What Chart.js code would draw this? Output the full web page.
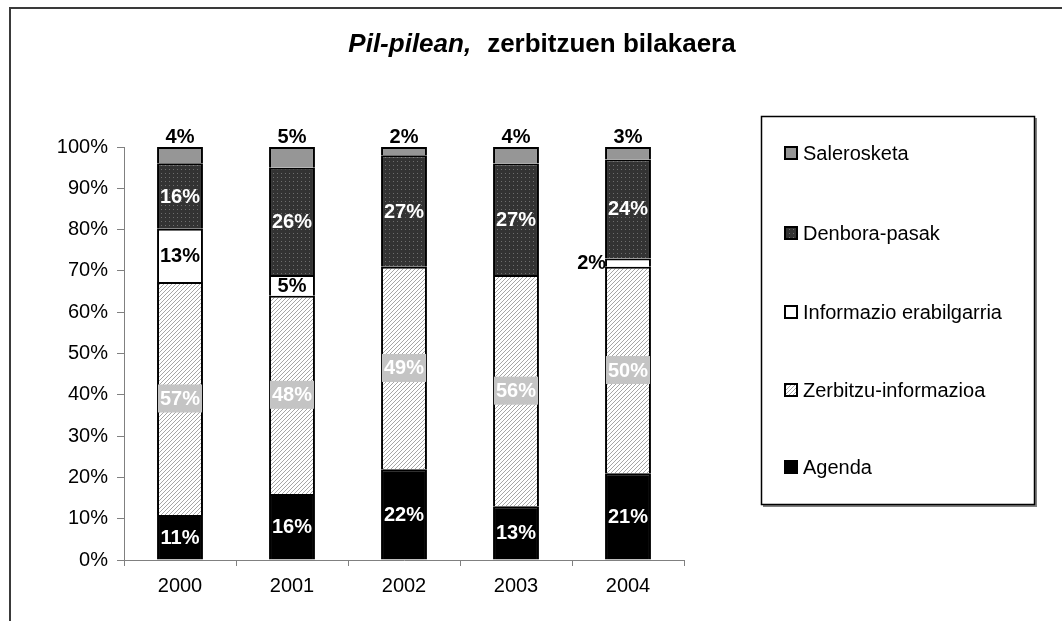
<!DOCTYPE html>
<html><head><meta charset="utf-8">
<script src="https://cdn.jsdelivr.net/npm/chart.js@4.4.0/dist/chart.umd.min.js"></script>
<style>html,body{margin:0;padding:0;background:#fff;}#wrap{width:1062px;height:621px;position:relative;}</style>
</head><body><div id="wrap"><canvas id="c" width="1062" height="621"></canvas></div>
<script>
// ---- data ----
const categories = ['2000', '2001', '2002', '2003', '2004'];
const agenda = [11, 16, 22, 13, 21];
const zerbitzu = [57, 48, 49, 56, 50];
const informazio = [13, 5, 0, 0, 2];
const denbora = [16, 26, 27, 27, 24];
const salerosketa = [4, 5, 2, 4, 3];
const yTickValues = [0, 10, 20, 30, 40, 50, 60, 70, 80, 90, 100];
const titleItalic = 'Pil-pilean,';
const titleRest = 'zerbitzuen bilakaera';

const FONT = '"Liberation Sans", Arial, sans-serif';

// ---- patterns ----
function hatchPattern() {
  const c = document.createElement('canvas'); c.width = 4; c.height = 4;
  const g = c.getContext('2d');
  g.fillStyle = '#ffffff'; g.fillRect(0, 0, 4, 4);
  g.strokeStyle = '#a6a6a6'; g.lineWidth = 1;
  g.beginPath();
  g.moveTo(-1, 5); g.lineTo(5, -1);
  g.moveTo(-1, 1); g.lineTo(1, -1);
  g.moveTo(3, 5); g.lineTo(5, 3);
  g.stroke();
  return g.createPattern(c, 'repeat');
}
function dotPattern() {
  const c = document.createElement('canvas'); c.width = 4; c.height = 4;
  const g = c.getContext('2d');
  g.fillStyle = '#333333'; g.fillRect(0, 0, 4, 4);
  g.fillStyle = '#6e6e6e'; g.fillRect(1, 1, 1, 1);
  return g.createPattern(c, 'repeat');
}

const seriesRaw = [agenda, zerbitzu, informazio, denbora, salerosketa];
const totals = categories.map((_, j) => seriesRaw.reduce((s, arr) => s + arr[j], 0));
const pct = arr => arr.map((v, j) => v / totals[j] * 100);

const datasets = [
  { label: 'Agenda', raw: agenda, data: pct(agenda), backgroundColor: '#000000', lbl: 'white' },
  { label: 'Zerbitzu-informazioa', raw: zerbitzu, data: pct(zerbitzu), backgroundColor: hatchPattern(), lbl: 'boxed' },
  { label: 'Informazio erabilgarria', raw: informazio, data: pct(informazio), backgroundColor: '#ffffff', lbl: 'black' },
  { label: 'Denbora-pasak', raw: denbora, data: pct(denbora), backgroundColor: dotPattern(), lbl: 'white' },
  { label: 'Salerosketa', raw: salerosketa, data: pct(salerosketa), backgroundColor: '#969696', lbl: 'above' }
].map(d => Object.assign(d, { borderColor: '#000000', borderWidth: 2, barPercentage: 0.41, categoryPercentage: 1 }));

const decor = {
  id: 'decor',
  beforeDraw(chart) {
    const ctx = chart.ctx;
    ctx.save();
    ctx.fillStyle = '#fff'; ctx.fillRect(0, 0, chart.width, chart.height);
    // outer frame
    ctx.strokeStyle = '#3a3a3a'; ctx.lineWidth = 2;
    ctx.beginPath(); ctx.moveTo(10, 621); ctx.lineTo(10, 8); ctx.lineTo(1062, 8); ctx.stroke();
    // title
    ctx.fillStyle = '#000'; ctx.textBaseline = 'alphabetic';
    ctx.font = 'italic bold 26px ' + FONT;
    const w1 = ctx.measureText(titleItalic).width;
    ctx.font = 'bold 26px ' + FONT;
    const w2 = ctx.measureText(titleRest).width;
    const gap = 16;
    let x0 = 542 - (w1 + gap + w2) / 2;
    ctx.font = 'italic bold 26px ' + FONT; ctx.textAlign = 'left';
    ctx.fillText(titleItalic, x0, 52);
    ctx.font = 'bold 26px ' + FONT;
    ctx.fillText(titleRest, x0 + w1 + gap, 52);
    ctx.restore();
  },
  afterDraw(chart) {
    const ctx = chart.ctx;
    ctx.save();
    // legend box
    ctx.strokeStyle = '#808080'; ctx.lineWidth = 2;
    ctx.beginPath(); ctx.moveTo(1036, 118); ctx.lineTo(1036, 506); ctx.lineTo(763, 506); ctx.stroke();
    ctx.strokeStyle = '#000'; ctx.lineWidth = 1.5;
    ctx.strokeRect(761.5, 116.5, 273, 388);
    const ys = [153, 233, 312, 390, 467];
    const ds = chart.data.datasets.slice().reverse();
    ctx.font = '20px ' + FONT; ctx.textBaseline = 'middle'; ctx.textAlign = 'left';
    ds.forEach((d, i) => {
      const y = ys[i];
      ctx.fillStyle = d.backgroundColor;
      ctx.fillRect(784, y - 7, 14, 14);
      ctx.strokeStyle = '#000'; ctx.lineWidth = 2;
      ctx.strokeRect(785, y - 6, 12, 12);
      ctx.fillStyle = '#000';
      ctx.fillText(d.label, 803, y + 1);
    });
    // data labels
    ctx.font = 'bold 20px ' + FONT;
    chart.data.datasets.forEach((d, i) => {
      const meta = chart.getDatasetMeta(i);
      meta.data.forEach((el, j) => {
        const v = d.raw[j];
        if (!v) return;
        const p = el.getProps(['x', 'y', 'base', 'width'], true);
        const txt = v + '%';
        const cy = (p.y + p.base) / 2;
        const h = Math.abs(p.base - p.y);
        ctx.textBaseline = 'middle';
        if (d.lbl === 'above') {
          ctx.textAlign = 'center'; ctx.fillStyle = '#000';
          ctx.fillText(txt, p.x, p.y - 10);
        } else if (d.lbl === 'boxed') {
          const tw = ctx.measureText(txt).width;
          ctx.fillStyle = '#c4c4c4';
          ctx.fillRect(p.x - tw / 2 - 2, cy - 14, tw + 4, 28);
          ctx.textAlign = 'center'; ctx.fillStyle = '#ffffff';
          ctx.fillText(txt, p.x, cy + 1);
        } else if (d.lbl === 'black') {
          ctx.fillStyle = '#000';
          if (h < 14) { ctx.textAlign = 'right'; ctx.fillText(txt, p.x - p.width / 2 + 1, cy + 1); }
          else { ctx.textAlign = 'center'; ctx.fillText(txt, p.x, cy + 1); }
        } else {
          ctx.textAlign = 'center'; ctx.fillStyle = '#ffffff';
          ctx.fillText(txt, p.x, cy + 1);
        }
      });
    });
    ctx.restore();
  }
};

new Chart(document.getElementById('c'), {
  type: 'bar',
  data: { labels: categories, datasets },
  options: {
    responsive: false, animation: false, devicePixelRatio: 1,
    layout: { padding: { top: 147, right: 378, bottom: 21, left: 0 } },
    plugins: { legend: { display: false }, tooltip: { enabled: false }, title: { display: false } },
    scales: {
      x: {
        stacked: true, offset: true,
        grid: { drawOnChartArea: false, drawTicks: true, tickLength: 6, color: '#808080', offset: true },
        border: { color: '#808080', width: 1 },
        ticks: { font: { family: FONT, size: 20 }, color: '#000', padding: 8, maxRotation: 0 },
        afterFit: s => { s.height = 40; }
      },
      y: {
        stacked: true, min: 0, max: 100,
        afterBuildTicks: s => { s.ticks = yTickValues.map(v => ({ value: v })); },
        grid: { drawOnChartArea: false, drawTicks: true, tickLength: 7, color: '#808080' },
        border: { color: '#808080', width: 1 },
        ticks: { font: { family: FONT, size: 20 }, color: '#000', padding: 9, callback: v => v + '%' },
        afterFit: s => { s.width = 124; }
      }
    }
  },
  plugins: [decor]
});
</script></body></html>
